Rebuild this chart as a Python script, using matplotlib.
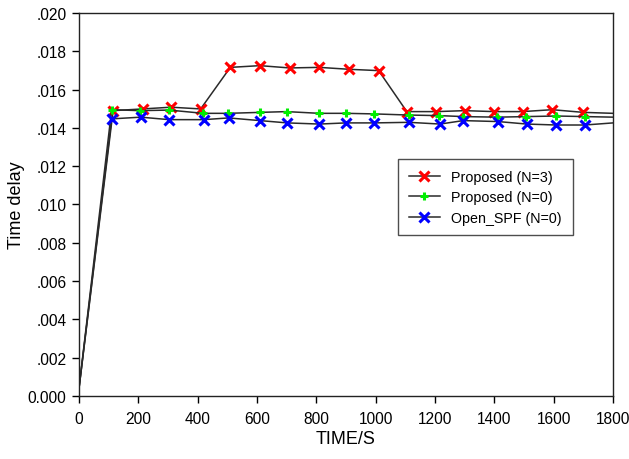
import matplotlib
matplotlib.use("Agg")
import matplotlib.pyplot as plt
from matplotlib.ticker import FuncFormatter

plt.rcParams["font.family"] = ["Liberation Sans", "DejaVu Sans"]

# values
x_red = [0, 115, 215, 310, 410, 510, 610, 710, 810, 910, 1010, 1105, 1205, 1300, 1400, 1495, 1595, 1700, 1800]
y_red = [0.0004, 0.01490, 0.01499, 0.01508, 0.01499, 0.01716, 0.01725, 0.01713, 0.01716, 0.01706,
         0.01699, 0.01485, 0.01485, 0.01490, 0.01485, 0.01485, 0.01495, 0.01481, 0.01476]

x_green = [0, 110, 206, 304, 419, 503, 610, 700, 810, 900, 995, 1112, 1215, 1295, 1410, 1508, 1608, 1705, 1800]
y_green = [0.0004, 0.01495, 0.01490, 0.01493, 0.01476, 0.01476, 0.01481, 0.01485, 0.01476, 0.01476,
           0.01473, 0.01467, 0.01464, 0.01459, 0.01456, 0.01459, 0.01462, 0.01459, 0.01456]

x_blue = [0, 110, 208, 304, 421, 504, 610, 702, 810, 900, 995, 1112, 1217, 1295, 1413, 1509, 1608, 1705, 1800]
y_blue = [0.0004, 0.01447, 0.01456, 0.01443, 0.01443, 0.01452, 0.01438, 0.01426, 0.01420, 0.01426,
          0.01426, 0.01429, 0.01420, 0.01438, 0.01433, 0.01420, 0.01415, 0.01415, 0.01426]

labels = ["Proposed (N=3)", "Proposed (N=0)", "Open_SPF (N=0)"]

fig = plt.figure(figsize=(6.29, 4.6), dpi=100)
ax = fig.add_axes([0.1256, 0.137, 0.849, 0.8326])

marks = list(range(1, 18))
ax.plot(x_red, y_red, color="#2a2a2a", lw=1.1, marker="x", ms=7, mew=2.2,
        mec="#ff0000", markevery=marks, label=labels[0])
ax.plot(x_green, y_green, color="#2a2a2a", lw=1.1, marker="+", ms=6, mew=2.2,
        mec="#00ee00", markevery=marks, label=labels[1])
ax.plot(x_blue, y_blue, color="#2a2a2a", lw=1.1, marker="x", ms=7, mew=2.2,
        mec="#0000ff", markevery=marks, label=labels[2])

ax.set_xlim(0, 1800)
ax.set_ylim(0, 0.02)
ax.set_xticks(range(0, 1801, 200))
ax.set_yticks([i * 0.002 for i in range(11)])


def yfmt(v, pos):
    if abs(v) < 1e-12:
        return "0.000"
    return ("%.3f" % v)[1:]


ax.yaxis.set_major_formatter(FuncFormatter(yfmt))
ax.tick_params(direction="out", length=5, width=1, labelsize=11.2, top=False, right=False)
ax.tick_params(axis="x", pad=6)
ax.tick_params(axis="y", pad=4)
for s in ax.spines.values():
    s.set_linewidth(1.0)
    s.set_color("#222222")

ax.set_xlabel("TIME/S", fontsize=13)
ax.set_ylabel("Time delay", fontsize=13)
ax.xaxis.set_label_coords(0.5, -0.089)
ax.yaxis.set_label_coords(-0.102, 0.5)

leg = ax.legend(loc="upper left", bbox_to_anchor=(0.597, 0.619), borderaxespad=0,
                fontsize=10.3, frameon=True, fancybox=False, edgecolor="#222222",
                borderpad=0.75, handlelength=2.2, handletextpad=0.8, labelspacing=0.45)
leg.get_frame().set_linewidth(1.0)

fig.savefig("out.png", dpi=100)
